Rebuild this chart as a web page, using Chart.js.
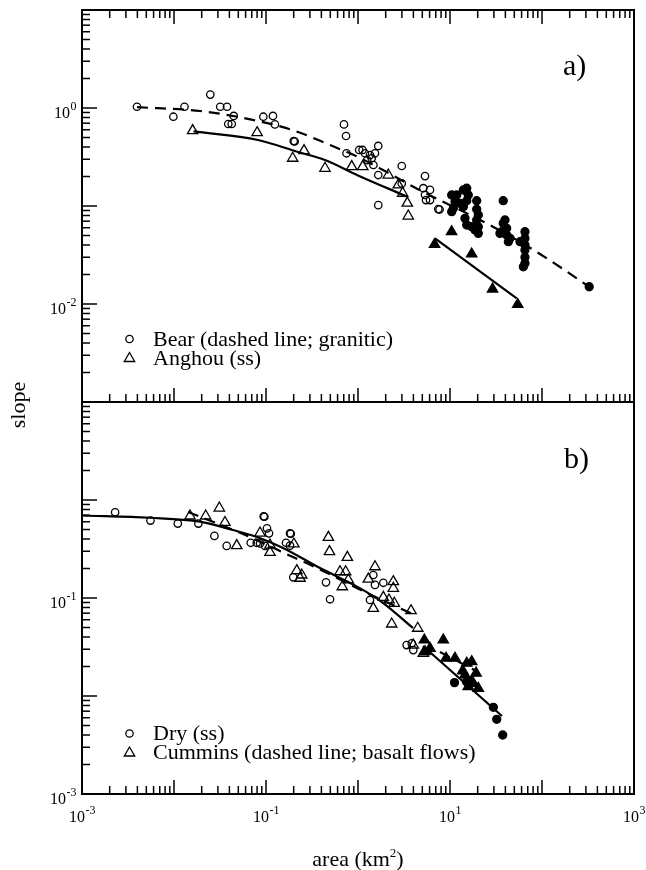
<!DOCTYPE html>
<html><head><meta charset="utf-8">
<script src="https://cdn.jsdelivr.net/npm/chart.js@4"></script>
<style>html,body{margin:0;padding:0;background:#fff}#wrap{width:646px;height:870px;position:relative}</style>
</head><body><div id="wrap"><canvas id="c"></canvas></div>
<script>
// ---------- Panel a) ----------
// Bear (granitic): open circles (small basins), filled circles (large basins)
const bearOpenArea  = [0.00396,0.00984,0.0130,0.0248,0.0318,0.0377,0.0446,0.0389,0.0424,0.0935,0.119,0.125,0.200,0.205,0.704,0.741,0.75,1.03,1.19,1.35,1.53,1.66,1.41,1.47,1.66,1.66,2.99,2.99,5.35,5.13,6.06,5.35,6.06,5.48,7.46,7.7,1.12,1.26];
const bearOpenSlope = [1.03,0.815,1.03,1.37,1.03,1.03,0.83,0.687,0.687,0.815,0.83,0.68,0.46,0.455,0.68,0.518,0.345,0.373,0.345,0.331,0.345,0.41,0.307,0.262,0.207,0.102,0.256,0.17,0.202,0.152,0.146,0.13,0.115,0.115,0.093,0.092,0.373,0.294];
const bearFilledArea  = [10.43,11.83,11.33,10.87,10.43,12.85,13.97,15.2,15.8,13.97,15.2,19.5,19.5,20.3,19.5,20.3,20.3,14.55,15.2,17.2,18.7,37.9,39.6,37.9,41.3,36.5,41.3,44.9,43.1,34.9,65.3,65.3,65.3,65.3,65.3,65.3,62.7,57.7,326];
const bearFilledSlope = [0.1295,0.1295,0.1106,0.0948,0.0875,0.1066,0.1456,0.1517,0.1295,0.0984,0.1133,0.1133,0.0925,0.081,0.072,0.0615,0.0526,0.0748,0.064,0.0615,0.0569,0.1133,0.072,0.0666,0.0592,0.0547,0.0506,0.0468,0.0432,0.0526,0.0547,0.0468,0.04,0.0356,0.03,0.026,0.024,0.0432,0.0150];
const bearFitArea  = [0.00396,0.0192,0.0779,0.201,0.497,1.0,1.87,4.38,29.3,95,326];
const bearFitSlope = [1.02,0.932,0.745,0.589,0.419,0.316,0.233,0.150,0.0615,0.0324,0.0150];
// Anghou (ss): open triangles, filled triangles
const anghouOpenArea  = [0.01596,0.0801,0.259,0.195,0.438,0.855,1.125,2.135,2.74,3.06,3.435,3.52];
const anghouOpenSlope = [0.587,0.56,0.367,0.307,0.2425,0.252,0.252,0.207,0.164,0.135,0.107,0.079];
const anghouFilledArea  = [6.8,10.4,17.2,29.0,54.5];
const anghouFilledSlope = [0.0405,0.0547,0.0324,0.01423,0.00989];
const anghouFitArea  = [0.0163,0.0819,0.2228,0.4375,1.0,3.49];
const anghouFitSlope = [0.577,0.4715,0.356,0.2946,0.205,0.1236];
const anghouLargeFitArea  = [6.87,53.1];
const anghouLargeFitSlope = [0.0468,0.01143];

// ---------- Panel b) ----------
// Dry (ss): open circles, filled circles
const dryOpenArea  = [0.00229,0.00555,0.011,0.0184,0.0275,0.0374,0.0944,0.096,0.1025,0.1078,0.0861,0.0682,0.0793,0.0976,0.1824,0.186,0.165,0.1824,0.198,0.449,0.497,1.466,1.53,1.885,1.35,3.38,3.84,3.99];
const dryOpenSlope = [0.749,0.617,0.575,0.575,0.43,0.34,0.681,0.675,0.514,0.457,0.361,0.366,0.366,0.34,0.457,0.452,0.366,0.342,0.1626,0.1445,0.097,0.1717,0.136,0.143,0.0955,0.0331,0.0345,0.0294];
const dryFilledArea  = [11.2,15.1,29.6,32.2,37.4];
const dryFilledSlope = [0.0137,0.014,0.00767,0.00578,0.004];
const dryFitArea  = [0.001,0.00548,0.0192,0.0438,0.0798,0.153,0.386,1.0,1.82,3.96];
const dryFitSlope = [0.695,0.659,0.601,0.494,0.419,0.324,0.202,0.129,0.091,0.0494];
const dryLargeFitArea  = [5.09,36.7];
const dryLargeFitSlope = [0.0324,0.00625];
// Cummins (basalt flows): open triangles, filled triangles
const cumminsOpenArea  = [0.01493,0.0221,0.0311,0.0358,0.0481,0.0861,0.1105,0.1105,0.201,0.216,0.2445,0.2345,0.477,0.49,0.766,0.637,0.734,0.785,0.675,1.53,1.295,1.466,1.885,2.17,2.42,2.42,2.48,2.325,3.77,4.46,3.99,5.13];
const cumminsOpenSlope = [0.687,0.687,0.828,0.59,0.342,0.46,0.347,0.292,0.356,0.19,0.1717,0.159,0.416,0.297,0.26,0.1854,0.1854,0.1528,0.1303,0.2085,0.156,0.0785,0.1016,0.0955,0.1467,0.1256,0.0883,0.0543,0.0742,0.0491,0.0331,0.0273];
const cumminsFilledArea  = [5.26,8.45,6.06,5.35,9.06,11.33,15.2,17.2,13.74,19.2,14.55,17.2,17.9,20.3,15.8];
const cumminsFilledSlope = [0.0373,0.0373,0.0307,0.0283,0.0243,0.0243,0.0216,0.0224,0.0181,0.0171,0.0164,0.014,0.0135,0.012,0.01245];
const cumminsFitArea  = [0.01419,0.0562,0.196,0.341,1.19,4.38];
const cumminsFitSlope = [0.754,0.45,0.262,0.207,0.115,0.0655];
const cumminsLargeFitArea  = [7.78,20.1];
const cumminsLargeFitSlope = [0.0281,0.0176];

// tick label exponents
const xLabelExps = ['-3','-1','1','3'];
const yaLabelExps = ['-2','0'];
const ybLabelExps = ['-3','-1'];

const FONT = '"Liberation Serif", "Times New Roman", serif';
const pts = (xs, ys) => xs.map((x, i) => ({x: x, y: ys[i]}));

function fit(xs, ys, axis, dashed, smooth) {
  return {data: pts(xs, ys), yAxisID: axis, showLine: true, pointRadius: 0, borderColor: '#000',
    borderWidth: 2.2, borderDash: dashed ? [11, 7] : [], cubicInterpolationMode: smooth ? 'monotone' : 'default', order: 2};
}
function marks(xs, ys, axis, style, filled) {
  return {data: pts(xs, ys), yAxisID: axis, showLine: false, pointStyle: style,
    pointRadius: style === 'triangle' ? 6 : (filled ? 4 : 3.7), borderColor: '#000', borderWidth: 1.3,
    backgroundColor: filled ? '#000' : 'rgba(0,0,0,0)', order: 1};
}

function drawPow(ctx, exp, x, baseY, mode) {
  ctx.font = '16px ' + FONT; const w1 = ctx.measureText('10').width;
  ctx.font = '12px ' + FONT; const w2 = ctx.measureText(exp).width;
  const x0 = mode === 'center' ? x - (w1 + w2) / 2 : x - (w1 + w2);
  ctx.textAlign = 'left'; ctx.textBaseline = 'alphabetic';
  ctx.font = '16px ' + FONT; ctx.fillText('10', x0, baseY);
  ctx.font = '12px ' + FONT; ctx.fillText(exp, x0 + w1 + 0.5, baseY - 8);
}
function legendMark(ctx, style, x, y) {
  ctx.lineWidth = 1.3; ctx.beginPath();
  if (style === 'circle') { ctx.arc(x, y, 3.7, 0, Math.PI * 2); }
  else { const r = 6; let a = 0;
    for (let i = 0; i < 3; i++) { const px = x + Math.sin(a) * r, py = y - Math.cos(a) * r;
      if (i === 0) ctx.moveTo(px, py); else ctx.lineTo(px, py); a += 2 * Math.PI / 3; }
    ctx.closePath(); }
  ctx.stroke();
}

const framePlugin = {
  id: 'frame',
  afterDraw(chart) {
    const ctx = chart.ctx, xs = chart.scales.x;
    let ya = chart.scales.ya, yb = chart.scales.yb;
    const L = xs.left, R = xs.right;
    const top = Math.min(ya.top, yb.top), bottom = Math.max(ya.bottom, yb.bottom);
    ctx.save();
    ctx.strokeStyle = '#000'; ctx.fillStyle = '#000'; ctx.lineWidth = 1.5;
    const line = (x1, y1, x2, y2) => { ctx.beginPath(); ctx.moveTo(x1, y1); ctx.lineTo(x2, y2); ctx.stroke(); };
    // x ticks
    for (let k = -3; k <= 2; k++) for (let m = 1; m <= 9; m++) {
      const px = xs.getPixelForValue(m * Math.pow(10, k)); const len = m === 1 ? 14 : 8;
      line(px, ya.top, px, ya.top + len);
      line(px, ya.bottom, px, ya.bottom - len);
      line(px, yb.bottom, px, yb.bottom - len);
    }
    // y ticks
    for (const s of [ya, yb]) {
      for (let k = -3; k <= 0; k++) for (let m = 1; m <= 9; m++) {
        const py = s.getPixelForValue(m * Math.pow(10, k)); const len = m === 1 ? 15 : 8;
        line(L, py, L + len, py);
      }
      const pt = s.getPixelForValue(10); line(L, pt, L + 15, pt);
    }
    // frame
    ctx.lineWidth = 2;
    ctx.strokeRect(L, top, R - L, bottom - top);
    line(L, ya.bottom, R, ya.bottom);
    // tick labels
    xLabelExps.forEach(e => drawPow(ctx, e, xs.getPixelForValue(Math.pow(10, +e)), yb.bottom + 28, 'center'));
    yaLabelExps.forEach(e => drawPow(ctx, e, L - 6, ya.getPixelForValue(Math.pow(10, +e)) + 10, 'right'));
    ybLabelExps.forEach(e => drawPow(ctx, e, L - 6, yb.getPixelForValue(Math.pow(10, +e)) + 10, 'right'));
    // axis titles
    ctx.font = '22px ' + FONT; ctx.textBaseline = 'alphabetic';
    const t1 = 'area (km', t2 = ')';
    const w1 = ctx.measureText(t1).width, w3 = ctx.measureText(t2).width;
    ctx.font = '13px ' + FONT; const w2 = ctx.measureText('2').width;
    const cx = (L + R) / 2; let x0 = cx - (w1 + w2 + w3) / 2;
    ctx.textAlign = 'left';
    ctx.font = '22px ' + FONT; ctx.fillText(t1, x0, 866);
    ctx.font = '13px ' + FONT; ctx.fillText('2', x0 + w1, 857);
    ctx.font = '22px ' + FONT; ctx.fillText(t2, x0 + w1 + w2, 866);
    ctx.save(); ctx.translate(25, 405); ctx.rotate(-Math.PI / 2);
    ctx.textAlign = 'center'; ctx.fillText('slope', 0, 0); ctx.restore();
    // panel labels
    ctx.font = '30px ' + FONT; ctx.textAlign = 'left';
    ctx.fillText('a)', 563, ya.top + 65);
    ctx.fillText('b)', 564, yb.top + 66);
    // legends
    ctx.font = '22px ' + FONT;
    const la = ya.top, lb = yb.top;
    legendMark(ctx, 'circle', 129.5, la + 329); ctx.fillText('Bear (dashed line; granitic)', 153, la + 336);
    legendMark(ctx, 'triangle', 129.5, la + 348.5); ctx.fillText('Anghou (ss)', 153, la + 355);
    legendMark(ctx, 'circle', 129.5, lb + 331.5); ctx.fillText('Dry (ss)', 153, lb + 338);
    legendMark(ctx, 'triangle', 129.5, lb + 351); ctx.fillText('Cummins (dashed line; basalt flows)', 153, lb + 357);
    ctx.restore();
  }
};

const yCommon = {type: 'logarithmic', min: 0.001, max: 10, position: 'left', stack: 'panels', stackWeight: 1,
  bounds: 'data', ticks: {display: false}, grid: {display: false, drawTicks: false}, border: {display: false},
  afterFit: s => { s.width = 0; }};

new Chart(document.getElementById('c'), {
  type: 'scatter',
  data: {datasets: [
    fit(bearFitArea, bearFitSlope, 'ya', true, true),
    fit(anghouFitArea, anghouFitSlope, 'ya', false, true),
    fit(anghouLargeFitArea, anghouLargeFitSlope, 'ya', false, false),
    marks(bearOpenArea, bearOpenSlope, 'ya', 'circle', false),
    marks(bearFilledArea, bearFilledSlope, 'ya', 'circle', true),
    marks(anghouOpenArea, anghouOpenSlope, 'ya', 'triangle', false),
    marks(anghouFilledArea, anghouFilledSlope, 'ya', 'triangle', true),
    fit(dryFitArea, dryFitSlope, 'yb', false, true),
    fit(cumminsFitArea, cumminsFitSlope, 'yb', true, true),
    fit(dryLargeFitArea, dryLargeFitSlope, 'yb', false, false),
    fit(cumminsLargeFitArea, cumminsLargeFitSlope, 'yb', true, false),
    marks(dryOpenArea, dryOpenSlope, 'yb', 'circle', false),
    marks(cumminsOpenArea, cumminsOpenSlope, 'yb', 'triangle', false),
    marks(cumminsFilledArea, cumminsFilledSlope, 'yb', 'triangle', true),
    marks(dryFilledArea, dryFilledSlope, 'yb', 'circle', true)
  ]},
  options: {
    responsive: true, maintainAspectRatio: false, animation: false, events: [],
    layout: {padding: {left: 82, right: 12, top: 10, bottom: 76}},
    plugins: {legend: {display: false}, tooltip: {enabled: false}, title: {display: false}},
    scales: {
      x: {type: 'logarithmic', min: 0.001, max: 1000, position: 'bottom', bounds: 'data',
        ticks: {display: false}, grid: {display: false, drawTicks: false}, border: {display: false},
        afterFit: s => { s.height = 0; }},
      yb: Object.assign({}, yCommon),
      ya: Object.assign({}, yCommon)
    }
  },
  plugins: [framePlugin]
});
</script></body></html>
